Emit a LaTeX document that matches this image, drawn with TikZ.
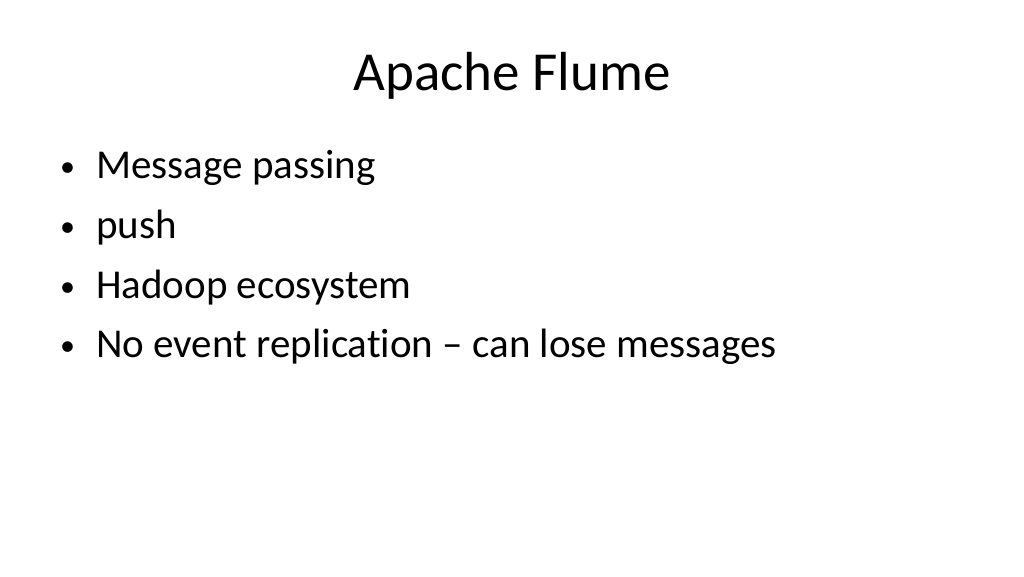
\documentclass[tikz,border=0pt]{standalone}
\usepackage{fontspec}
\setmainfont{Carlito}[Ligatures=NoCommon]
\begin{document}
\begin{tikzpicture}[x=1pt,y=-1pt]
  \tikzstyle{titletext}=[anchor=base,font=\fontsize{55}{64}\selectfont]
  \tikzstyle{item}=[anchor=base west,inner sep=0pt,font=\fontsize{41}{48}\selectfont]
  \tikzstyle{dot}=[anchor=base west,inner sep=0pt,font=\fontsize{30}{36}\selectfont]
  \useasboundingbox (0,0) rectangle (1024,576);
  \node [titletext] (title) at (512,90) {Apache Flume};
  \foreach \y/\t [count=\i] in {178/Message passing,238/push,298/Hadoop ecosystem,357/No event replication -- can lose messages} {
    \node [dot] (b\i) at (60,\y-2) {\textbullet};
    \node [item] (t\i) at (96,\y) {\t};
  }
\end{tikzpicture}
\end{document}
